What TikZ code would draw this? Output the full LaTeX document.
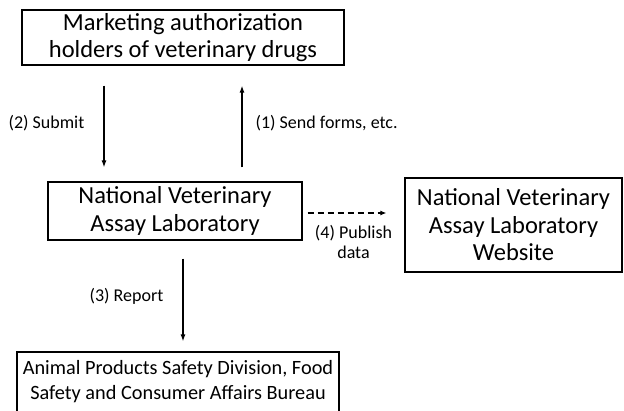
\documentclass[tikz,border=0pt]{standalone}
\usepackage{fontspec}
\setmainfont{Carlito}
\usetikzlibrary{arrows.meta}

\begin{document}
\begin{tikzpicture}[x=1pt,y=-1pt,
  box/.style={draw, line width=1.2pt, align=center, inner sep=0pt},
  bigtext/.style={font=\fontsize{24.5}{27.5}\selectfont},
  flow/.style={-{Latex[length=7pt,width=5pt]}, line width=1.2pt},
  lbl/.style={font=\fontsize{18}{20}\selectfont, inner sep=0pt}]

\useasboundingbox (0,0) rectangle (624,410);

% Boxes
\node[box, bigtext, minimum width=322pt, minimum height=55pt] (mah) at (183,37.5) {Marketing authorization\\holders of veterinary drugs};
\node[box, bigtext, minimum width=254pt, minimum height=58pt] (nval) at (175,211) {National Veterinary\\Assay Laboratory};
\node[box, bigtext, minimum width=217pt, minimum height=94pt] (web) at (513.5,225) {National Veterinary\\Assay Laboratory\\Website};
\node[box, font=\fontsize{20.3}{25}\selectfont, minimum width=322pt, minimum height=60pt] (apsd) at (178,382) {Animal Products Safety Division, Food\\Safety and Consumer Affairs Bureau};

% Arrows between the boxes
\draw[flow, shorten <=20pt, shorten >=14pt] (mah.south -| 104,0) -- node[lbl, left=19pt] {(2) Submit} (nval.north -| 104,0);
\draw[flow, shorten <=14pt, shorten >=20pt] (nval.north -| 242,0) -- node[lbl, right=13pt] {(1) Send forms, etc.} (mah.south -| 242,0);
\draw[flow, shorten <=18pt, shorten >=10pt] (nval.south -| 183,0) -- node[lbl, left=19pt] {(3) Report} (apsd.north -| 183,0);

% Dashed arrow
\draw[-{Latex[length=6pt,width=5pt]}, line width=2pt, dash pattern=on 6.5pt off 3.5pt, shorten <=5pt, shorten >=18pt] (nval.east |- 0,213) -- node[lbl, align=center, below=11pt] {(4) Publish\\data} (web.west |- 0,213);

\end{tikzpicture}
\end{document}
